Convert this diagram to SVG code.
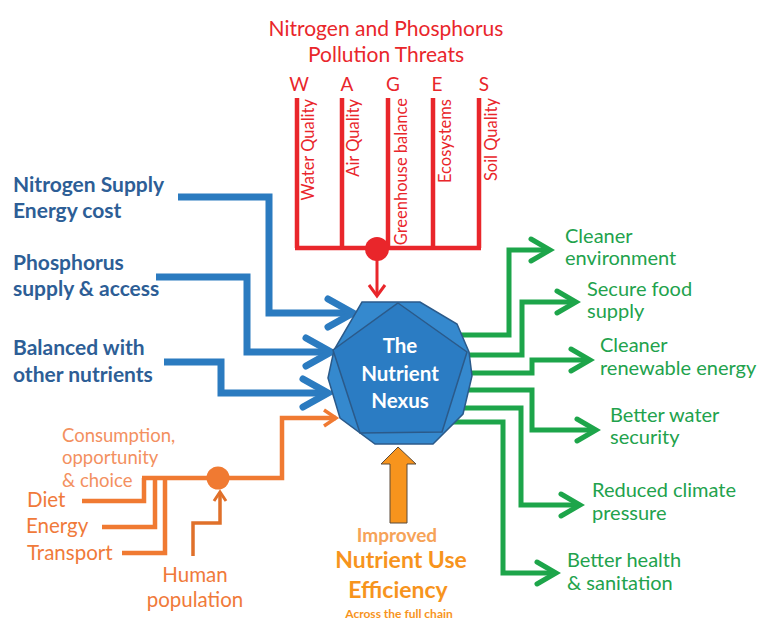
<svg xmlns="http://www.w3.org/2000/svg" width="767" height="621" viewBox="0 0 767 621">
<style>
text{font-family:Lato,"Open Sans","Liberation Sans",sans-serif}
.red{fill:#E9262B}
.rl{stroke:#E9262B;stroke-width:4.5;fill:none}
.bl{stroke:#2B7BC0;stroke-width:7;fill:none;stroke-linejoin:miter}
.bt{fill:#2D5E96;font-weight:bold;font-size:21px}
.gl{stroke:#1DA54A;stroke-width:5;fill:none}
.gt{fill:#22A24C;font-size:20px}
.ol{stroke:#F07A32;stroke-width:4.5;fill:none}
.ot{fill:#F07A3A;font-size:20.5px}
.ct{fill:#F39060;font-size:18.5px}
.nt{fill:#ffffff;font-weight:bold;font-size:20.5px;text-anchor:middle}
.vt{font-family:Lato,"Liberation Sans",sans-serif;font-size:16.5px;text-anchor:end}
</style>
<defs>
<marker id="mb" markerUnits="userSpaceOnUse" markerWidth="40" markerHeight="40" viewBox="-5 -5 40 40" refX="26" refY="15" orient="auto" overflow="visible"><path d="M1,1 L26,15 L1,29" fill="none" stroke="#2B7BC0" stroke-width="7" stroke-linecap="round"/></marker>
<marker id="mg" markerUnits="userSpaceOnUse" markerWidth="30" markerHeight="30" viewBox="-4 -4 30 30" refX="20" refY="12" orient="auto" overflow="visible"><path d="M1,1 L20,12 L1,23" fill="none" stroke="#1DA54A" stroke-width="5" stroke-linecap="round"/></marker>
<marker id="mr" markerUnits="userSpaceOnUse" markerWidth="20" markerHeight="20" viewBox="-3 -3 20 20" refX="11" refY="8" orient="auto" overflow="visible"><path d="M0,0 L11,8 L0,16" fill="none" stroke="#E9262B" stroke-width="3"/></marker>
<marker id="mo" markerUnits="userSpaceOnUse" markerWidth="20" markerHeight="20" viewBox="-3 -3 20 20" refX="12" refY="8" orient="auto" overflow="visible"><path d="M0,0 L12,8 L0,16" fill="none" stroke="#F07A32" stroke-width="3.5"/></marker>
<marker id="mh" markerUnits="userSpaceOnUse" markerWidth="16" markerHeight="16" viewBox="-3 -3 16 16" refX="9" refY="6" orient="auto" overflow="visible"><path d="M0,0 L9,6 L0,12" fill="none" stroke="#E0702A" stroke-width="3"/></marker>
</defs>

<g id="title">
<text class="red" x="386" y="36" font-size="21" text-anchor="middle">Nitrogen and Phosphorus</text>
<text class="red" x="386" y="62" font-size="21" text-anchor="middle">Pollution Threats</text>
</g>

<g id="wages" class="red">
<text x="299" y="91" font-size="19" text-anchor="middle">W</text>
<text x="347" y="91" font-size="19" text-anchor="middle">A</text>
<text x="393" y="91" font-size="19" text-anchor="middle">G</text>
<text x="437" y="91" font-size="19" text-anchor="middle">E</text>
<text x="484" y="91" font-size="19" text-anchor="middle">S</text>
<text class="vt" transform="translate(314,99) rotate(-90)">Water Quality</text>
<text class="vt" transform="translate(359,99) rotate(-90)">Air Quality</text>
<text class="vt" transform="translate(407,98) rotate(-90)">Greenhouse balance</text>
<text class="vt" transform="translate(451,99) rotate(-90)">Ecosystems</text>
<text class="vt" transform="translate(497,98) rotate(-90)">Soil Quality</text>
</g>

<g id="connectors">
<g id="red-lines">
<path class="rl" d="M297,98 V248 M342,98 V248 M388,98 V248 M433,98 V248 M479,98 V248 M295,248 H481"/>
<circle cx="377" cy="249" r="12" fill="#E9262B"/>
<path d="M377,255 V296" stroke="#E9262B" stroke-width="3" fill="none" marker-end="url(#mr)"/>
</g>
<g id="blue-lines">
<path class="bl" d="M178,197 H269 V313 H353" marker-end="url(#mb)"/>
<path class="bl" d="M156,277 H247 V352 H331" marker-end="url(#mb)"/>
<path class="bl" d="M164,362 H221 V393 H328" marker-end="url(#mb)"/>
</g>
<g id="green-lines">
<path class="gl" d="M450,335 H509 V250 H550" marker-end="url(#mg)"/>
<path class="gl" d="M455,355 H522 V302 H576" marker-end="url(#mg)"/>
<path class="gl" d="M460,373 H532 V360 H590" marker-end="url(#mg)"/>
<path class="gl" d="M460,390 H532 V430 H596" marker-end="url(#mg)"/>
<path class="gl" d="M455,408 H521 V505 H580" marker-end="url(#mg)"/>
<path class="gl" d="M445,422 H503 V573 H556" marker-end="url(#mg)"/>
</g>
<g id="orange-lines">
<path class="ol" d="M82,501 H144 V478 M102,527 H155 V478 M122,553 H165 V478 M142,478 H282 V418 H336" marker-end="url(#mo)"/>
<circle cx="218" cy="478" r="11.5" fill="#F07A32"/>
<path d="M193,556 V523 H220 V492" stroke="#E0702A" stroke-width="3.5" fill="none" marker-end="url(#mh)"/>
</g>
</g>

<g id="nexus">
<polygon points="362,302 420,302 457,324 469,352 472,376 463,414 433,444 375,444 340,418 328,378 334,350" fill="#3589CE" stroke="#2B5A8A" stroke-width="1.5"/>
<polygon points="398,303 467,352 442,432 360,433 333,350" fill="#2B7CC3" stroke="#2B5A8A" stroke-width="1.5"/>
<text class="nt" x="400" y="353">The</text>
<text class="nt" x="400" y="381">Nutrient</text>
<text class="nt" x="400" y="408">Nexus</text>
</g>

<g id="nitrogen">
<text class="bt" x="13" y="192">Nitrogen Supply</text>
<text class="bt" x="13" y="218">Energy cost</text>
</g>
<g id="phosphorus">
<text class="bt" x="13" y="270">Phosphorus</text>
<text class="bt" x="13" y="296">supply &amp; access</text>
</g>
<g id="balanced">
<text class="bt" x="13" y="355">Balanced with</text>
<text class="bt" x="13" y="382">other nutrients</text>
</g>

<g id="consumption">
<text class="ct" x="62" y="442">Consumption,</text>
<text class="ct" x="62" y="464">opportunity</text>
<text class="ct" x="62" y="487">&amp; choice</text>
</g>
<g id="diet"><text class="ot" x="27" y="507">Diet</text></g>
<g id="energy"><text class="ot" x="26" y="533">Energy</text></g>
<g id="transport"><text class="ot" x="27" y="560">Transport</text></g>
<g id="human">
<text class="ot" x="195" y="582" text-anchor="middle" fill="#F08040">Human</text>
<text class="ot" x="195" y="607" text-anchor="middle" fill="#F08040">population</text>
</g>

<g id="nue">
<polygon points="398,447 416,464 407,464 407,523 390,523 390,464 381,464" fill="#F7941D" stroke="#5A4A3A" stroke-width="1"/>
<text x="397" y="542" fill="#F6A358" font-size="19" font-weight="bold" text-anchor="middle">Improved</text>
<text x="401" y="568" fill="#F7941D" font-size="23" font-weight="bold" text-anchor="middle">Nutrient Use</text>
<text x="398" y="598" fill="#F7941D" font-size="23" font-weight="bold" text-anchor="middle">Efficiency</text>
<text x="399" y="618" fill="#F7941D" font-size="12" font-weight="bold" text-anchor="middle">Across the full chain</text>
</g>

<g id="out1"><text class="gt" x="565" y="243">Cleaner</text><text class="gt" x="565" y="265">environment</text></g>
<g id="out2"><text class="gt" x="587" y="296">Secure food</text><text class="gt" x="587" y="318">supply</text></g>
<g id="out3"><text class="gt" x="600" y="352">Cleaner</text><text class="gt" x="600" y="375">renewable energy</text></g>
<g id="out4"><text class="gt" x="610" y="422">Better water</text><text class="gt" x="610" y="444">security</text></g>
<g id="out5"><text class="gt" x="592" y="497">Reduced climate</text><text class="gt" x="592" y="520">pressure</text></g>
<g id="out6"><text class="gt" x="567" y="567">Better health</text><text class="gt" x="567" y="590">&amp; sanitation</text></g>
</svg>
